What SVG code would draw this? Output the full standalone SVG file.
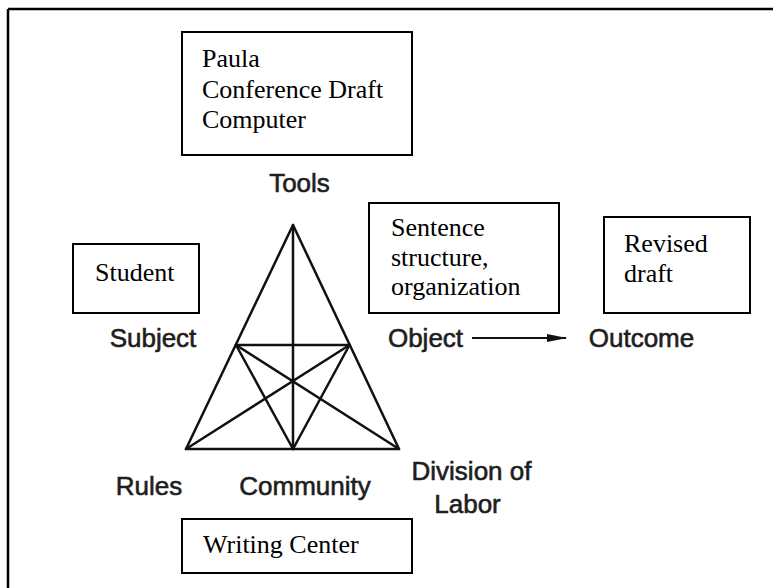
<svg xmlns="http://www.w3.org/2000/svg" width="773" height="588" viewBox="0 0 773 588">
  <defs>
    <style>
      .box { fill: #ffffff; stroke: #000000; stroke-width: 2; }
      .serif { font-family: "Liberation Serif", "Times New Roman", serif; font-size: 26px; fill: #000000; }
      .lbl { font-family: "Liberation Sans", Arial, sans-serif; font-size: 26px; fill: #1e1e1e; stroke: #1e1e1e; stroke-width: 0.6; text-anchor: middle; }
      .tri { fill: none; stroke: #111111; stroke-width: 2.5; stroke-linejoin: round; stroke-linecap: round; }
      .conn { stroke: #111111; stroke-width: 2; fill: none; }
    </style>
    <marker id="arrow" markerWidth="20" markerHeight="10" refX="19" refY="5" orient="auto" markerUnits="userSpaceOnUse">
      <path d="M0,1 L20,5 L0,9 Z" fill="#111111"/>
    </marker>
  </defs>
  <rect width="773" height="588" fill="#ffffff"/>
  <g id="frame">
    <line x1="8" y1="9" x2="773" y2="9" stroke="#000" stroke-width="2.5"/>
    <line x1="8" y1="9" x2="8" y2="588" stroke="#000" stroke-width="2.5"/>
  </g>
  <g id="triangle">
    <polygon class="tri" points="293,225 186,449 399,449"/>
    <line class="tri" x1="293" y1="225" x2="293" y2="449"/>
    <line class="tri" x1="236" y1="345" x2="349.5" y2="345"/>
    <line class="tri" x1="236" y1="345" x2="399" y2="449"/>
    <line class="tri" x1="349.5" y1="345" x2="186" y2="449"/>
    <line class="tri" x1="236" y1="345" x2="293" y2="449"/>
    <line class="tri" x1="349.5" y1="345" x2="293" y2="449"/>
  </g>
  <g id="tools-box">
    <rect class="box" x="182" y="32" width="230" height="123"/>
    <text class="serif" x="202" y="67">Paula</text>
    <text class="serif" x="202" y="97.5">Conference Draft</text>
    <text class="serif" x="202" y="128">Computer</text>
  </g>
  <g id="student-box">
    <rect class="box" x="73" y="244" width="126" height="69"/>
    <text class="serif" x="95" y="281">Student</text>
  </g>
  <g id="object-box">
    <rect class="box" x="369" y="203" width="190" height="110"/>
    <text class="serif" x="391" y="236">Sentence</text>
    <text class="serif" x="391" y="265.5">structure,</text>
    <text class="serif" x="391" y="295">organization</text>
  </g>
  <g id="outcome-box">
    <rect class="box" x="604" y="217" width="146" height="96"/>
    <text class="serif" x="624" y="252">Revised</text>
    <text class="serif" x="624" y="282">draft</text>
  </g>
  <g id="community-box">
    <rect class="box" x="182" y="519" width="230" height="54"/>
    <text class="serif" x="203" y="553">Writing Center</text>
  </g>
  <g id="tools"><text class="lbl" x="299.5" y="192">Tools</text></g>
  <g id="subject"><text class="lbl" x="153" y="347">Subject</text></g>
  <g id="object"><text class="lbl" x="425.5" y="347">Object</text></g>
  <g id="outcome"><text class="lbl" x="641.5" y="347">Outcome</text></g>
  <g id="rules"><text class="lbl" x="149" y="495">Rules</text></g>
  <g id="community"><text class="lbl" x="305" y="495">Community</text></g>
  <g id="division">
    <text class="lbl" x="471.5" y="480">Division of</text>
    <text class="lbl" x="467.5" y="513">Labor</text>
  </g>
  <g id="connectors">
    <line class="conn" x1="472" y1="338" x2="566" y2="338" marker-end="url(#arrow)"/>
  </g>
</svg>
